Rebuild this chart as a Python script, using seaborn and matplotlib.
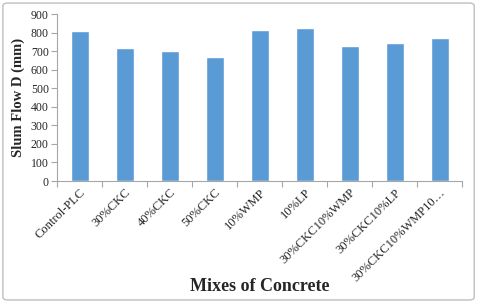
import matplotlib
matplotlib.use("Agg")
import matplotlib.pyplot as plt
import seaborn as sns
import pandas as pd
from matplotlib.patches import FancyBboxPatch

mixes = ["Control-PLC", "30%CKC", "40%CKC", "50%CKC", "10%WMP", "10%LP",
         "30%CKC10%WMP", "30%CKC10%LP", "30%CKC10%WMP10\u2026"]
slump_flow = [810, 716, 700, 671, 815, 826, 729, 745, 774]

sns.set_style("white")
plt.rcParams['font.family'] = ['Liberation Serif', 'DejaVu Serif']

df = pd.DataFrame({"mix": mixes, "flow": slump_flow})

fig = plt.figure(figsize=(4.8, 3.03), dpi=100)
ax = fig.add_axes([0.119, 0.4026, 0.8435, 0.5504])

sns.barplot(data=df, x="mix", y="flow", color="#5B9BD5", width=0.4,
            saturation=1, ax=ax)

ax.set_ylim(0, 900)
ax.set_yticks(range(0, 901, 100))
ax.set_xlim(-0.5, len(mixes) - 0.5)

# excel-style ticks between categories
ax.set_xticks([i - 0.5 for i in range(len(mixes) + 1)], minor=True)
ax.tick_params(axis="x", which="major", length=0, labelsize=9, pad=4)
ax.tick_params(axis="x", which="minor", length=4, color="#A6A6A6", width=0.8,
               direction="out", bottom=True)
ax.tick_params(axis="y", length=4, color="#A6A6A6", width=0.8, labelsize=8.5,
               direction="out", left=True, pad=2)
ax.set_xticks(range(len(mixes)))
ax.set_xticklabels(mixes, rotation=45, ha="right", rotation_mode="anchor")

for side in ["top", "right"]:
    ax.spines[side].set_visible(False)
for side in ["left", "bottom"]:
    ax.spines[side].set_color("#A6A6A6")
    ax.spines[side].set_linewidth(0.8)

ax.set_xlabel("Mixes of Concrete", fontsize=13, fontweight="bold", va="center")
ax.xaxis.set_label_coords(0.5, -0.635)
ax.set_ylabel("Slum Flow D (mm)", fontsize=10.5, fontweight="bold", labelpad=4)

border = FancyBboxPatch((0.006, 0.01), 0.982, 0.98, boxstyle="round,pad=0,rounding_size=0.01",
                        transform=fig.transFigure, fill=False, edgecolor="#BFBFBF",
                        linewidth=1)
fig.add_artist(border)

fig.savefig("out.png", dpi=100)
